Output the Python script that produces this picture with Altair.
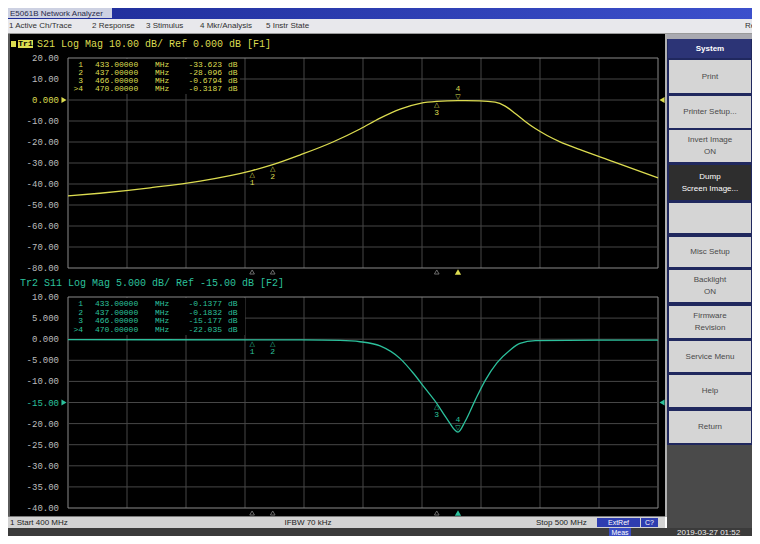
import altair as alt
import pandas as pd

W, H = 744, 528          # whole chart (page margin 8 px): chart px = screenshot px - 8

freq_start, freq_stop = 400.0, 500.0
freq_grid = [400, 410, 420, 430, 440, 450, 460, 470, 480, 490, 500]

s21_freq = [400.0, 405.4, 413.9, 422.4, 431.2, 434.7, 439.3, 444.9, 449.5, 452.9, 456.3,
            459.7, 462.5, 466.1, 469.8, 472.4, 474.1, 475.8, 477.5, 479.2, 481.2, 483.4,
            486.8, 492.4, 500.0]
s21_db = [-45.7, -44.4, -41.8, -38.6, -33.6, -30.8, -26.2, -20.0, -13.8, -8.6, -4.3,
          -1.6, -0.68, -0.32, -0.4, -1.0, -2.9, -6.4, -10.2, -13.6, -16.9, -19.9,
          -23.6, -29.3, -37.1]

s11_freq = [400.0, 430.8, 439.3, 446.1, 449.5, 452.9, 456.3, 458.5, 460.5, 462.5, 464.2,
            466.1, 467.3, 469.0, 470.7, 472.7, 474.9, 476.6, 479.2, 490.2, 500.0]
s11_db = [-0.12, -0.14, -0.18, -0.3, -0.6, -1.6, -4.6, -8.0, -11.6, -15.2, -18.8,
          -22.0, -19.5, -14.5, -9.8, -5.6, -2.6, -1.0, -0.35, -0.2, -0.2]

marker_ids = ["1", "2", "3", "4"]
marker_freq = [431.2, 434.7, 462.5, 466.1]
marker_active = [False, False, False, True]
s21_marker_db = [-33.623, -30.8, -0.6794, -0.3187]
s11_marker_db = [-0.1377, -0.1832, -15.177, -22.035]

table_labels = ["1", "2", "3", ">4"]
table_freq_text = ["433.00000", "437.00000", "466.00000", "470.00000"]
s21_table_values = ["-33.623", "-28.096", "-0.6794", "-0.3187"]
s11_table_values = ["-0.1377", "-0.1832", "-15.177", "-22.035"]

s21_ticks = [20, 10, 0, -10, -20, -30, -40, -50, -60, -70, -80]
s21_tick_labels = ["20.00", "10.00", "0.000", "-10.00", "-20.00", "-30.00", "-40.00",
                   "-50.00", "-60.00", "-70.00", "-80.00"]
s11_ticks = [10, 5, 0, -5, -10, -15, -20, -25, -30, -35, -40]
s11_tick_labels = ["10.00", "5.000", "0.000", "-5.000", "-10.00", "-15.00", "-20.00",
                   "-25.00", "-30.00", "-35.00", "-40.00"]
s21_ref, s11_ref = 0.0, -15.0

s21_title = "S21 Log Mag 10.00 dB/ Ref 0.000 dB [F1]"
s11_title = "Tr2 S11 Log Mag 5.000 dB/ Ref -15.00 dB [F2]"
window_title = "E5061B Network Analyzer"
menu_items = ["1 Active Ch/Trace", "2 Response", "3 Stimulus", "4 Mkr/Analysis", "5 Instr State", "Restore"]
softkeys = [["Print"], ["Printer Setup..."], ["Invert Image", "ON"], ["Dump", "Screen Image..."], [],
            ["Misc Setup"], ["Backlight", "ON"], ["Firmware", "Revision"], ["Service Menu"], ["Help"], ["Return"]]
status_start, status_ifbw, status_stop = "1  Start 400 MHz", "IFBW 70 kHz", "Stop 500 MHz"
status_boxes = ["ExtRef", "C?"]
meas_label, date_label = "Meas", "2019-03-27 01:52"

# ---------------- styling / layout ----------------
YEL = "#dcdc50"
TEAL = "#2cc09c"
MONO = "Liberation Mono"
SANS = "Liberation Sans"

XF = alt.Scale(domain=[freq_start, freq_stop], range=[60, 650], nice=False, zero=False)
Y1 = alt.Scale(domain=[-80, 20], range=[260, 50], nice=False, zero=False)
Y2 = alt.Scale(domain=[-40, 10], range=[500, 289], nice=False, zero=False)
PX = alt.Scale(domain=[0, W], range=[0, W], nice=False, zero=False)
PY = alt.Scale(domain=[0, H], range=[0, H], nice=False, zero=False)

layers = []

# window chrome rectangles (layout)
title_bar = alt.Chart(pd.DataFrame([{"x": 0, "x2": W, "y": 0, "y2": 11}])).mark_rect(
    color=alt.LinearGradient(gradient="linear",
                             stops=[alt.GradientStop(color="#1d2b96", offset=0),
                                    alt.GradientStop(color="#3c50cc", offset=1)],
                             x1=0, x2=1, y1=0, y2=0)
).encode(x=alt.X("x:Q", scale=PX, axis=None), x2="x2:Q",
         y=alt.Y("y:Q", scale=PY, axis=None), y2="y2:Q")
layers.append(title_bar)

rects = [
    (0, 104, 0, 10, "#cdd1e2"),
    (0, W, 11, 25, "#e8e8ec"),
    (0, W, 25, 26, "#9a9a9a"),
    (0, 2, 26, 509, "#5a5a5a"),
    (2, 657, 26, 508, "#000000"),
    (657, 659, 26, 509, "#b0b0b0"),
    (659, W, 26, 31, "#a9a9b0"),
    (659, W, 31, 437, "#20285e"),
    (660, 743, 31, 50, "#2c3476"),
    (659, W, 437, 520, "#4a4a4a"),
    (0, 657, 508, 509, "#7a7a7a"),
    (0, 657, 509, 520, "#d3d3d3"),
    (589, 632, 510, 519, "#2e3db0"),
    (633, 650, 510, 519, "#2e3db0"),
    (0, W, 520, H, "#3b3b3b"),
    (601, 623, 520, H, "#3a4cc0"),
    (10, 25, 32, 40, YEL),
    (3, 8, 33, 39, YEL),
]
btn_y = [(52, 85), (88, 120), (122, 154), (157, 192), (195, 225), (229, 259),
         (262, 294), (298, 330), (333, 364), (367, 399), (403, 435)]
for i, (a, b) in enumerate(btn_y):
    rects.append((661, 743, a, b, "#2e2e2e" if i == 3 else "#d5d5d5"))
rect_df = pd.DataFrame(rects, columns=["x", "x2", "y", "y2", "fill"])
rect_df["order"] = range(len(rect_df))
layers.append(alt.Chart(rect_df).mark_rect().encode(
    x=alt.X("x:Q", scale=PX, axis=None), x2="x2:Q",
    y=alt.Y("y:Q", scale=PY, axis=None), y2="y2:Q",
    color=alt.Color("fill:N", scale=None), order="order:Q"))

# graticules
def grid(ticks, yscale, ytop, ybot):
    hdf = pd.DataFrame({"db": ticks,
                        "c": ["#8a8a8a" if (t == ticks[0] or t == ticks[-1]) else "#474747" for t in ticks]})
    vdf = pd.DataFrame({"f": freq_grid,
                        "c": ["#8a8a8a" if (f in (freq_start, freq_stop)) else "#474747" for f in freq_grid]})
    h = alt.Chart(hdf).mark_rule(strokeWidth=1).encode(
        y=alt.Y("db:Q", scale=yscale, axis=None), x=alt.value(60), x2=alt.value(650),
        color=alt.Color("c:N", scale=None))
    v = alt.Chart(vdf).mark_rule(strokeWidth=1).encode(
        x=alt.X("f:Q", scale=XF, axis=None), y=alt.value(ytop), y2=alt.value(ybot),
        color=alt.Color("c:N", scale=None))
    return [v, h]

layers += grid(s21_ticks, Y1, 50, 260)
layers += grid(s11_ticks, Y2, 289, 500)

# cover grid under the marker tables
cover = pd.DataFrame([(61, 232, 51, 86), (61, 237, 290, 327)], columns=["x", "x2", "y", "y2"])
layers.append(alt.Chart(cover).mark_rect(color="#000000").encode(
    x=alt.X("x:Q", scale=PX, axis=None), x2="x2:Q",
    y=alt.Y("y:Q", scale=PY, axis=None), y2="y2:Q"))

# traces
s21_df = pd.DataFrame({"f": s21_freq, "db": s21_db})
s11_df = pd.DataFrame({"f": s11_freq, "db": s11_db})
layers.append(alt.Chart(s21_df).mark_line(color=YEL, strokeWidth=1.3, interpolate="monotone").encode(
    x=alt.X("f:Q", scale=XF, axis=None), y=alt.Y("db:Q", scale=Y1, axis=None)))
layers.append(alt.Chart(s11_df).mark_line(color=TEAL, strokeWidth=1.3, interpolate="monotone").encode(
    x=alt.X("f:Q", scale=XF, axis=None), y=alt.Y("db:Q", scale=Y2, axis=None)))

# markers on traces
def markers(dbs, yscale, color, ybottom):
    df = pd.DataFrame({"f": marker_freq, "db": dbs, "id": marker_ids, "active": marker_active})
    out = []
    base = alt.Chart(df)
    enc = dict(x=alt.X("f:Q", scale=XF, axis=None), y=alt.Y("db:Q", scale=yscale, axis=None))
    inact = base.transform_filter("!datum.active")
    act = base.transform_filter("datum.active")
    out.append(inact.mark_text(text="△", font="DejaVu Sans", fontSize=7, color=color, dy=4).encode(**enc))
    out.append(inact.mark_text(font=MONO, fontSize=8, color=color, dy=12).encode(text="id:N", **enc))
    out.append(act.mark_text(text="▽", font="DejaVu Sans", fontSize=7, color=color, dy=-4).encode(**enc))
    out.append(act.mark_text(font=MONO, fontSize=8, color=color, dy=-12).encode(text="id:N", **enc))
    # indicators under the graticule
    out.append(inact.mark_point(shape="triangle-up", size=22, filled=False, color="#9a9a9a",
                                strokeWidth=1).encode(x=alt.X("f:Q", scale=XF, axis=None),
                                                      y=alt.value(ybottom)))
    out.append(act.mark_point(shape="triangle-up", size=40, filled=True, color=color, opacity=1).encode(
        x=alt.X("f:Q", scale=XF, axis=None), y=alt.value(ybottom)))
    return out

layers += markers(s21_marker_db, Y1, YEL, 264)
layers += markers(s11_marker_db, Y2, TEAL, 505)

# reference-level arrows
for ref, ysc, col in [(s21_ref, Y1, YEL), (s11_ref, Y2, TEAL)]:
    rdf = pd.DataFrame({"db": [ref]})
    layers.append(alt.Chart(rdf).mark_point(shape="triangle-right", size=35, filled=True, color=col,
                                            opacity=1).encode(
        x=alt.value(56), y=alt.Y("db:Q", scale=ysc, axis=None)))
    layers.append(alt.Chart(rdf).mark_point(shape="triangle-left", size=35, filled=True, color=col,
                                            opacity=1).encode(
        x=alt.value(654), y=alt.Y("db:Q", scale=ysc, axis=None)))

# y tick labels
for ticks, labels, ref, ysc, col in [(s21_ticks, s21_tick_labels, s21_ref, Y1, YEL),
                                     (s11_ticks, s11_tick_labels, s11_ref, Y2, TEAL)]:
    ldf = pd.DataFrame({"db": ticks, "label": labels,
                        "c": [col if t == ref else "#bdbdbd" for t in ticks]})
    layers.append(alt.Chart(ldf).mark_text(align="right", baseline="middle", font=MONO, fontSize=9).encode(
        x=alt.value(51), y=alt.Y("db:Q", scale=ysc, axis=None), text="label:N",
        color=alt.Color("c:N", scale=None)))

# text helpers (layout positions in chart px)
def texts(rows, align, font, weight="normal"):
    df = pd.DataFrame(rows, columns=["x", "y", "text", "color", "size"])
    return alt.Chart(df).mark_text(align=align, baseline="middle", font=font, fontWeight=weight).encode(
        x=alt.X("x:Q", scale=PX, axis=None), y=alt.Y("y:Q", scale=PY, axis=None),
        text="text:N", color=alt.Color("color:N", scale=None), size=alt.Size("size:Q", scale=None))

# marker tables
rows_l, rows_r = [], []
for ys, vals, col in [([57, 65, 73, 81], s21_table_values, YEL),
                      ([296, 304.5, 313, 321.5], s11_table_values, TEAL)]:
    for y, lab, fr, v in zip(ys, table_labels, table_freq_text, vals):
        rows_r.append((75, y, lab, col, 8))
        rows_l.append((87, y, fr, col, 8))
        rows_l.append((147, y, "MHz", col, 8))
        rows_r.append((214, y, v, col, 8))
        rows_l.append((220, y, "dB", col, 8))
layers.append(texts(rows_l, "left", MONO))
layers.append(texts(rows_r, "right", MONO))

# trace titles
layers.append(texts([(29, 36, s21_title, YEL, 10), (12, 275, s11_title, TEAL, 10)], "left", MONO))
layers.append(texts([(17.5, 36, "Tr1", "#000000", 8)], "center", MONO, "bold"))

# window chrome texts
menu_x = [1, 84, 138, 192, 258, 737]
chrome_left = [(2, 5.5, window_title, "#2a2a4a", 8)]
chrome_left += [(x, 18, t, "#303030", 8) for x, t in zip(menu_x, menu_items)]
chrome_left += [(2, 514.5, status_start, "#222222", 8), (528, 514.5, status_stop, "#222222", 8),
                (669, 524.5, date_label, "#f0f0f0", 8)]
layers.append(texts(chrome_left, "left", SANS))

chrome_center = [(300, 514.5, status_ifbw, "#222222", 8),
                 (610.5, 514.5, status_boxes[0], "#ffffff", 7), (641.5, 514.5, status_boxes[1], "#ffffff", 7),
                 (612, 524.5, meas_label, "#ffffff", 7)]
for (a, b), lines in zip(btn_y, softkeys):
    col = "#ffffff" if lines == ["Dump", "Screen Image..."] else "#4a4a4a"
    mid = (a + b) / 2
    if len(lines) == 1:
        chrome_center.append((702, mid, lines[0], col, 8))
    elif len(lines) == 2:
        chrome_center.append((702, mid - 6, lines[0], col, 8))
        chrome_center.append((702, mid + 6, lines[1], col, 8))
layers.append(texts(chrome_center, "center", SANS))
layers.append(texts([(702, 40.5, "System", "#ffffff", 8)], "center", SANS, "bold"))

chart = alt.layer(*layers).resolve_scale(x="independent", y="independent").properties(
    width=W, height=H, padding=0, autosize="none", background="#ffffff"
).configure_view(stroke=None)

chart.save("out.html", embed_options={"renderer": "svg", "actions": False})
